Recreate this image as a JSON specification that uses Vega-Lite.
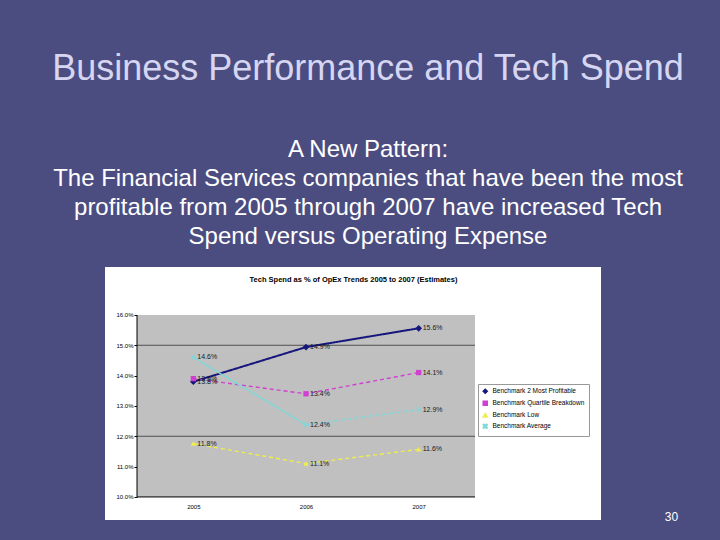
{
  "$schema": "https://vega.github.io/schema/vega-lite/v6.json",
  "width": 496,
  "height": 253,
  "autosize": {"type": "none"},
  "padding": {"left": 105, "top": 267, "right": 119, "bottom": 20},
  "background": "#4b4d80",
  "config": {
    "view": {"fill": "#ffffff", "stroke": null},
    "font": "Liberation Sans"
  },
  "title": {
    "text": "Business Performance and Tech Spend",
    "subtitle": ["A New Pattern:", "The Financial Services companies that have been the most", "profitable from 2005 through 2007 have increased Tech", "Spend versus Operating Expense"],
    "anchor": "middle",
    "frame": "group",
    "dx": 15,
    "offset": 17,
    "font": "Liberation Sans",
    "fontSize": 36,
    "fontWeight": "normal",
    "color": "#d6d6f2",
    "subtitleFont": "Liberation Sans",
    "subtitleFontSize": 24,
    "subtitleColor": "#ffffff",
    "subtitleLineHeight": 29,
    "subtitlePadding": 50
  },
  "datasets": {
    "trend": [
      {"series": "Benchmark 2 Most Profitable", "year": 2005, "value": 0.138, "seg": "p1", "dash": "solid", "marker": 1},
      {"series": "Benchmark 2 Most Profitable", "year": 2006, "value": 0.1494, "seg": "p1", "dash": "solid", "marker": 1},
      {"series": "Benchmark 2 Most Profitable", "year": 2007, "value": 0.1556, "seg": "p1", "dash": "solid", "marker": 1},
      {"series": "Benchmark Quartile Breakdown", "year": 2005, "value": 0.139, "seg": "q1", "dash": "dashed", "marker": 1},
      {"series": "Benchmark Quartile Breakdown", "year": 2006, "value": 0.134, "seg": "q1", "dash": "dashed", "marker": 1},
      {"series": "Benchmark Quartile Breakdown", "year": 2007, "value": 0.141, "seg": "q1", "dash": "dashed", "marker": 1},
      {"series": "Benchmark Low", "year": 2005, "value": 0.1176, "seg": "l1", "dash": "dashed", "marker": 1},
      {"series": "Benchmark Low", "year": 2006, "value": 0.111, "seg": "l1", "dash": "dashed", "marker": 1},
      {"series": "Benchmark Low", "year": 2007, "value": 0.1157, "seg": "l1", "dash": "dashed", "marker": 1},
      {"series": "Benchmark Average", "year": 2005, "value": 0.146, "seg": "a1", "dash": "solid", "marker": 1},
      {"series": "Benchmark Average", "year": 2006, "value": 0.1238, "seg": "a1", "dash": "solid", "marker": 1},
      {"series": "Benchmark Average", "year": 2006, "value": 0.1238, "seg": "a2", "dash": "dashed", "marker": 0},
      {"series": "Benchmark Average", "year": 2007, "value": 0.1288, "seg": "a2", "dash": "dashed", "marker": 1}
    ]
  },
  "layer": [
    {
      "data": {"values": [{"x1": 2004.5, "x2": 2007.5, "y1": 0.10, "y2": 0.16}]},
      "mark": {"type": "rect", "fill": "#c0c0c0"},
      "encoding": {
        "x": {"field": "x1", "type": "quantitative", "scale": {"domain": [2004.216, 2008.618], "nice": false, "zero": false},
          "axis": {"orient": "bottom", "offset": -23, "values": [2005, 2006, 2007], "format": "d", "domain": false, "ticks": false, "grid": false, "labelPadding": 6, "labelFontSize": 6, "labelColor": "#000000", "labelFont": "Liberation Sans",
            "title": "30", "titleX": 566, "titleY": 19, "titleBaseline": "middle", "titleAlign": "center", "titleColor": "#ffffff", "titleFontSize": 12, "titleFontWeight": "normal", "titleFont": "Liberation Sans"}},
        "x2": {"field": "x2"},
        "y": {"field": "y1", "type": "quantitative", "scale": {"domain": [0.0924, 0.1758], "nice": false, "zero": false},
          "axis": {"orient": "left", "offset": -32, "values": [0.10, 0.11, 0.12, 0.13, 0.14, 0.15, 0.16], "format": ".1%", "domain": false, "ticks": true, "tickSize": 3, "tickColor": "#000000", "grid": false, "labelPadding": 1, "labelFontSize": 6, "labelColor": "#000000", "labelFont": "Liberation Sans",
            "title": "Tech Spend as % of OpEx Trends 2005 to 2007 (Estimates)", "titleAngle": 0, "titleX": 216, "titleY": 12, "titleBaseline": "middle", "titleAlign": "center", "titleColor": "#000000", "titleFontSize": 7.5, "titleFontWeight": "bold", "titleFont": "Liberation Sans"}},
        "y2": {"field": "y2"}
      }
    },
    {
      "data": {"values": [{"gy": 0.12, "gx1": 2004.5, "gx2": 2007.5}, {"gy": 0.15, "gx1": 2004.5, "gx2": 2007.5}]},
      "mark": {"type": "rule", "color": "#505050", "strokeWidth": 1},
      "encoding": {
        "x": {"field": "gx1", "type": "quantitative"},
        "x2": {"field": "gx2"},
        "y": {"field": "gy", "type": "quantitative"}
      }
    },
    {
      "data": {"values": [{"ax1": 2004.5, "ax2": 2004.5, "ay1": 0.10, "ay2": 0.16}, {"ax1": 2004.5, "ax2": 2007.5, "ay1": 0.10, "ay2": 0.10}]},
      "mark": {"type": "rule", "color": "#000000", "strokeWidth": 1},
      "encoding": {
        "x": {"field": "ax1", "type": "quantitative"},
        "x2": {"field": "ax2"},
        "y": {"field": "ay1", "type": "quantitative"},
        "y2": {"field": "ay2"}
      }
    },
    {
      "data": {"name": "trend"},
      "mark": {"type": "line"},
      "encoding": {
        "x": {"field": "year", "type": "quantitative"},
        "y": {"field": "value", "type": "quantitative"},
        "color": {"field": "series", "type": "nominal",
          "scale": {"domain": ["Benchmark 2 Most Profitable", "Benchmark Quartile Breakdown", "Benchmark Low", "Benchmark Average"], "range": ["#16167c", "#d040d0", "#eeee4a", "#7ed8d8"]},
          "legend": {"orient": "none", "legendX": 373, "legendY": 117, "title": null, "labelFontSize": 6.5, "labelFont": "Liberation Sans", "labelColor": "#000000", "symbolSize": 16, "rowPadding": 1, "padding": 4, "strokeColor": "#999999", "fillColor": "#ffffff", "labelLimit": 130, "symbolOpacity": 1}},
        "strokeWidth": {"condition": {"test": "datum.series === 'Benchmark 2 Most Profitable'", "value": 2}, "value": 1.4},
        "strokeDash": {"field": "dash", "type": "nominal", "legend": null, "scale": {"domain": ["solid", "dashed"], "range": [[1, 0], [4, 3]]}},
        "detail": {"field": "seg"}
      }
    },
    {
      "data": {"name": "trend"},
      "transform": [{"filter": "datum.marker == 1"}],
      "mark": {"type": "point", "filled": true, "opacity": 1},
      "encoding": {
        "x": {"field": "year", "type": "quantitative"},
        "y": {"field": "value", "type": "quantitative"},
        "color": {"field": "series", "type": "nominal",
          "legend": {"orient": "none", "legendX": 373, "legendY": 117, "title": null, "labelFontSize": 6.5, "labelFont": "Liberation Sans", "labelColor": "#000000", "symbolSize": 16, "rowPadding": 1, "padding": 4, "strokeColor": "#999999", "fillColor": "#ffffff", "labelLimit": 130, "symbolOpacity": 1}},
        "shape": {"field": "series", "type": "nominal",
          "scale": {"domain": ["Benchmark 2 Most Profitable", "Benchmark Quartile Breakdown", "Benchmark Low", "Benchmark Average"], "range": ["diamond", "square", "triangle-up", "M-1,-0.7L-0.7,-1L0,-0.3L0.7,-1L1,-0.7L0.3,0L1,0.7L0.7,1L0,0.3L-0.7,1L-1,0.7L-0.3,0Z"]},
          "legend": {"orient": "none", "legendX": 373, "legendY": 117, "title": null, "labelFontSize": 6.5, "labelFont": "Liberation Sans", "labelColor": "#000000", "symbolSize": 16, "rowPadding": 1, "padding": 4, "strokeColor": "#999999", "fillColor": "#ffffff", "labelLimit": 130, "symbolOpacity": 1}},
        "size": {"condition": {"test": "datum.series === 'Benchmark 2 Most Profitable'", "value": 45}, "value": 28}
      }
    },
    {
      "data": {"name": "trend"},
      "transform": [{"filter": "datum.marker == 1"}],
      "mark": {"type": "text", "align": "left", "baseline": "middle", "dx": 4, "fontSize": 7, "color": "#1a1a1a", "font": "Liberation Sans"},
      "encoding": {
        "x": {"field": "year", "type": "quantitative"},
        "y": {"field": "value", "type": "quantitative"},
        "text": {"field": "value", "type": "quantitative", "format": ".1%"}
      }
    }
  ]
}
